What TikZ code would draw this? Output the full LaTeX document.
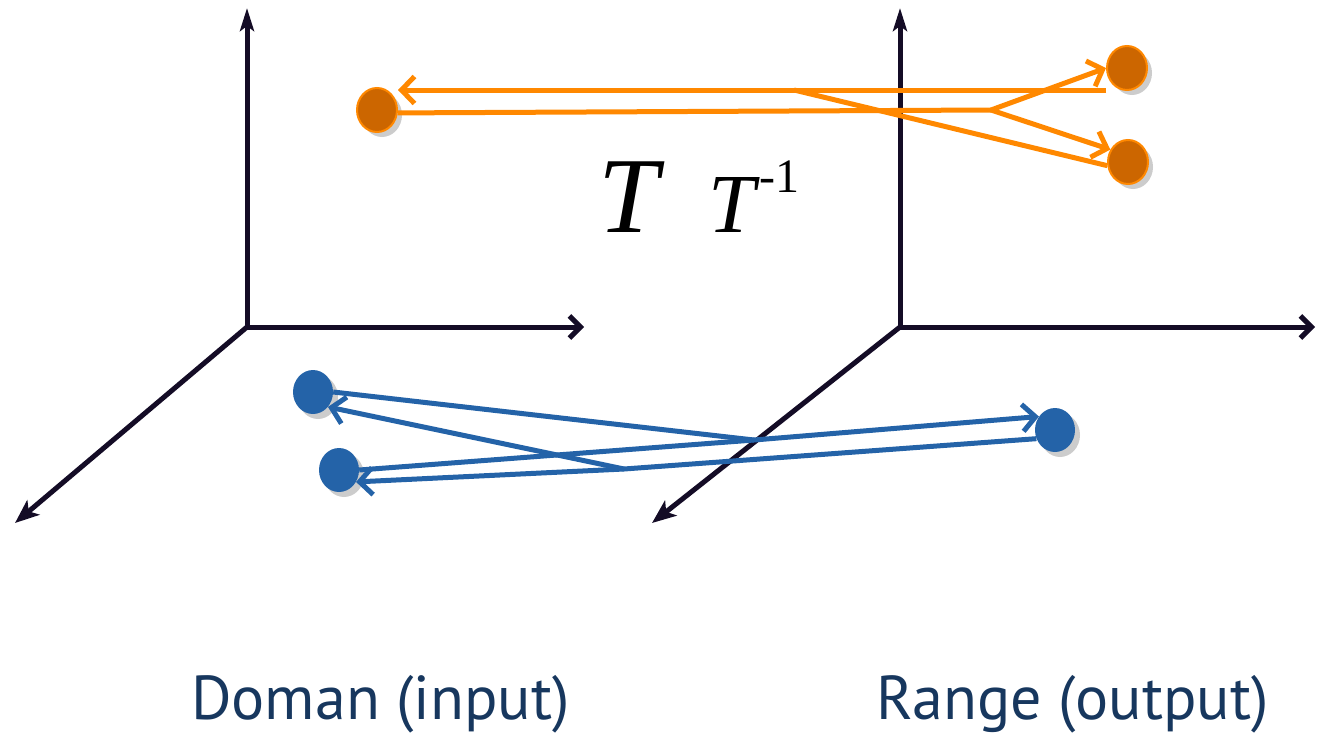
\documentclass[tikz,border=0pt]{standalone}
\usepackage{fontspec}
\usepackage{xcolor}
\usetikzlibrary{arrows.meta,shapes.geometric,shadows,calc}
\newfontfamily\timesfont{Liberation Serif}
\newfontfamily\labelfont{PT Sans}
\definecolor{axisnavy}{RGB}{20,12,38}
\definecolor{mapor}{RGB}{255,136,0}
\definecolor{dotor}{RGB}{204,102,0}
\definecolor{mapblue}{RGB}{36,99,168}
\definecolor{textnavy}{RGB}{23,55,94}

\begin{document}
\begin{tikzpicture}[x=1pt,y=-1pt,
  axis/.style={line width=5pt,axisnavy},
  upaxis/.style={axis,-{Stealth[length=23pt,width=14pt,inset=5pt]}},
  sideaxis/.style={axis,-{Straight Barb[length=11pt,width=22pt]}},
  deepaxis/.style={axis,-{Stealth[length=24pt,width=19pt,inset=6pt]}},
  dot/.style={ellipse,minimum width=40pt,minimum height=44pt,inner sep=0pt,
    drop shadow={shadow xshift=5pt,shadow yshift=-5pt,opacity=0.4}},
  orangedot/.style={dot,fill=dotor,draw=mapor,line width=2pt},
  bluedot/.style={dot,fill=mapblue},
  orangemap/.style={line width=5pt,mapor},
  bluemap/.style={line width=5pt,mapblue},
  maptip/.style={-{Straight Barb[length=13pt,width=27pt]}}]
  \useasboundingbox (0,0) rectangle (1317,734);
  % --- left: domain axes
  \begin{scope}
    \coordinate (oL) at (247,327);
    \draw[upaxis] (oL) -- (247,8);
    \draw[sideaxis] (oL) -- (584,327);
    \draw[deepaxis] (oL) -- (15,523);
  \end{scope}
  % --- right: range axes
  \begin{scope}
    \coordinate (oR) at (900,327);
    \draw[upaxis] (oR) -- (900,8);
    \draw[sideaxis] (oR) -- (1315,327);
    \draw[deepaxis] (oR) -- (652,523);
  \end{scope}
  % --- orange points: one to many
  \node[orangedot] (dL) at (377,110) {};
  \node[orangedot] (dTR) at (1127,68) {};
  \node[orangedot] (dBR) at (1128,162) {};
  \coordinate (jT) at (794,90);
  \coordinate (jB) at (991,110);
  \draw[orangemap] (dL.-8) -- (jB);
  \draw[orangemap,maptip] (jB) -- (dTR.west);
  \draw[orangemap,maptip] (jB) -- (dBR.145);
  \draw[orangemap,maptip] (dTR.west |- jT) -- (jT -| dL.east);
  \draw[orangemap] (dBR.190) -- (jT);
  % --- blue points: many to one
  \node[bluedot] (bTL) at (313,392) {};
  \node[bluedot] (bBL) at (339,470) {};
  \node[bluedot] (bR) at (1055,430) {};
  \coordinate (jF) at (754,440);
  \coordinate (jI) at (624,469);
  \draw[bluemap] (bTL.east) -- (jF);
  \draw[bluemap] (bBL.east) -- (jF);
  \draw[bluemap,maptip] (jF) -- (bR.140);
  \draw[bluemap] (bR.205) -- (jI);
  \draw[bluemap,maptip] (jI) -- (bTL.-45);
  \draw[bluemap,maptip] (jI) -- (bBL.-35);
  % --- map names and labels
  \node[anchor=base,inner sep=0pt] (T) at (629,232)
    {\timesfont\itshape\fontsize{108}{110}\selectfont T};
  \node[anchor=base west,inner sep=0pt] (Tinv) at (708,232)
    {\timesfont\fontsize{84}{90}\selectfont\textit{T}\raisebox{40pt}{\fontsize{48}{50}\selectfont -1}};
  \node[anchor=base west,inner sep=0pt,text=textnavy] (dom) at (191,719)
    {\labelfont\fontsize{62}{72}\selectfont Doman (input)};
  \node[anchor=base west,inner sep=0pt,text=textnavy] (ran) at (876,719)
    {\labelfont\fontsize{62}{72}\selectfont Range (output)};
\end{tikzpicture}
\end{document}
